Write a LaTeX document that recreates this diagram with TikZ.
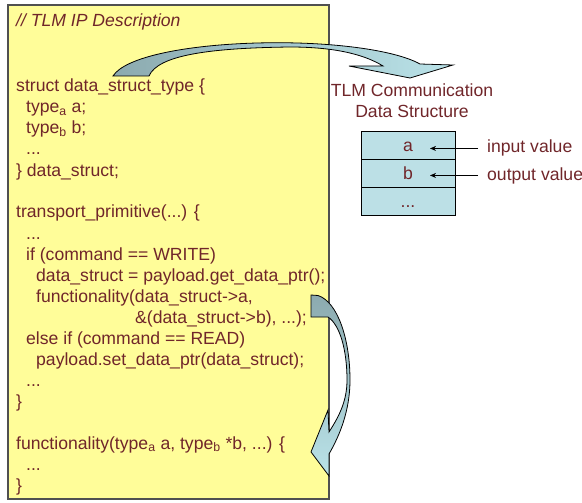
\documentclass[tikz,border=0pt]{standalone}
\usepackage{fontspec}
\setmainfont{Liberation Sans}
\usetikzlibrary{arrows.meta}
\definecolor{codetext}{RGB}{112,38,42}
\definecolor{notepad}{RGB}{255,253,153}
\definecolor{padborder}{RGB}{80,80,80}
\definecolor{cellfill}{RGB}{188,224,230}
\definecolor{arrowdark}{RGB}{140,170,175}
\definecolor{arrowlight}{RGB}{186,227,233}
\begin{document}
\begin{tikzpicture}[x=1pt,y=-1pt,
  txt/.style={inner sep=0pt, text=codetext, font=\fontsize{17.6}{21}\selectfont},
  code/.style={txt, anchor=base west},
  pad/.style={draw=padborder, line width=1.2pt, fill=notepad, inner sep=0pt},
  cell/.style={txt, draw=black, line width=0.9pt, fill=cellfill,
    minimum width=94pt, minimum height=27.7pt, text height=12.5pt, text depth=0.5pt},
  pointer/.style={draw=black, line width=0.8pt, -{Stealth[length=6pt,width=5pt]}},
  blockarrow/.style={draw=black, line width=0.8pt, line join=miter}]
\useasboundingbox (0,0) rectangle (582,503);

% the IP description sheet
\node[pad, minimum width=321pt, minimum height=494pt] (ip) at (168.5,252) {};

\node[code] (c1)  at (16,27)  {\itshape // TLM IP Description};
\node[code] (c2)  at (16,92)  {struct data\_struct\_type \{};
\node[code] (c3)  at (26,113) {type\textsubscript{a} a;};
\node[code] (c4)  at (26,134) {type\textsubscript{b} b;};
\node[code] (c5)  at (26,155) {...};
\node[code] (c6)  at (16,176) {\} data\_struct;};
\node[code] (c7)  at (16,218) {transport\_primitive(...) \{};
\node[code] (c8)  at (26,239) {...};
\node[code] (c9)  at (26,260) {if (command == WRITE)};
\node[code] (c10) at (36,281) {data\_struct = payload.get\_data\_ptr();};
\node[code] (c11) at (36,302) {functionality(data\_struct->a,};
\node[code] (c12) at (135,323) {\&(data\_struct->b), ...);};
\node[code] (c13) at (26,344) {else if (command == READ)};
\node[code] (c14) at (36,365) {payload.set\_data\_ptr(data\_struct);};
\node[code] (c15) at (26,386) {...};
\node[code] (c16) at (16,407) {\}};
\node[code] (c17) at (16,449) {functionality(type\textsubscript{a} a, type\textsubscript{b} *b, ...) \{};
\node[code] (c18) at (26,470) {...};
\node[code] (c19) at (16,491) {\}};

% communication data structure
\node[txt, anchor=base] (title1) at (412,97)  {TLM Communication};
\node[txt, anchor=base] (title2) at (412,118) {Data Structure};

\node[cell] (ca) at (408,145.8) {a};
\node[cell] (cb) at (408,173.5) {b};
\node[cell] (cc) at (408,201.2) {...};

\node[code] (inlbl)  at (487,153) {input value};
\node[code] (outlbl) at (487,180) {output value};
\coordinate (tipx) at (430,0);
\draw[pointer] ([xshift=-9pt]inlbl.west)  -- (inlbl.west -| tipx);
\draw[pointer] ([xshift=-9pt]outlbl.west) -- (outlbl.west -| tipx);

% curved block arrow: struct type -> communication data structure
\path[blockarrow, left color=arrowdark, right color=arrowlight]
  (113,76) .. controls (125,57) and (185,45) .. (257,43)
           .. controls (330,41) and (395,50) .. (420,64)
  -- (453,65) -- (410,78) -- (349,66) -- (383,66)
           .. controls (362,53) and (330,47) .. (290,47)
           .. controls (210,48) and (158,55) .. (149,76)
  -- cycle;

% curved block arrow: call site -> functionality definition
\path[blockarrow, top color=arrowdark, bottom color=arrowlight]
  (311,295) -- (318,295.5)
           .. controls (338,302) and (350,340) .. (350,380)
           .. controls (350,410) and (340,435) .. (329,454)
  -- (329,476) -- (311,452) -- (328,410) -- (329,432)
           .. controls (340,415) and (347,400) .. (347,380)
           .. controls (347,350) and (340,325) .. (328,317)
  -- (311,317) -- cycle;
\end{tikzpicture}
\end{document}
